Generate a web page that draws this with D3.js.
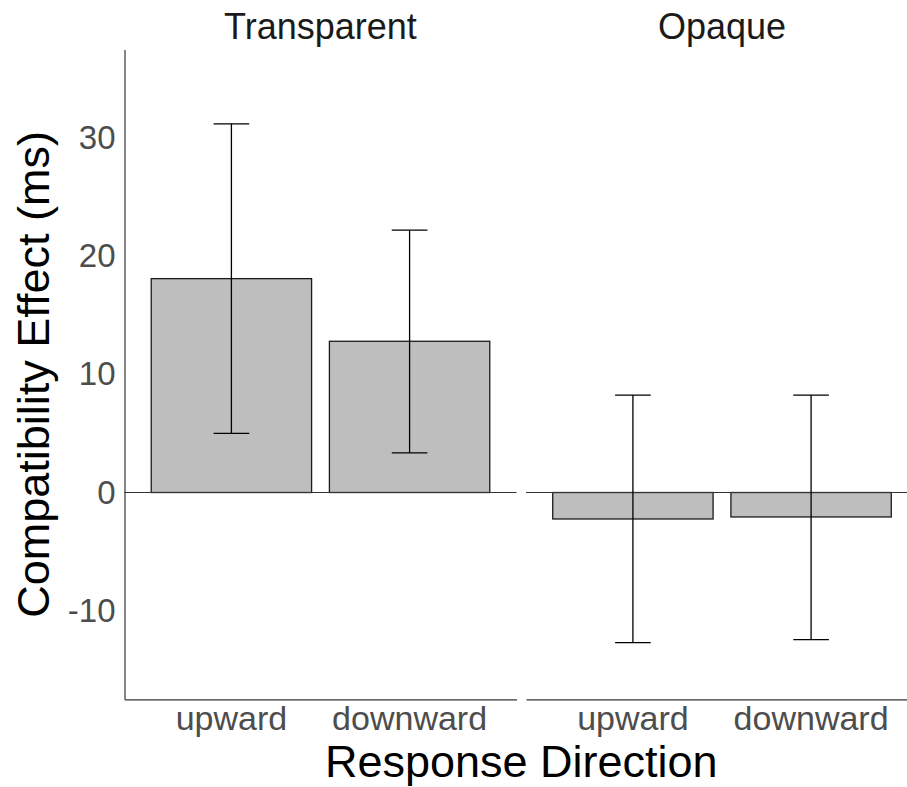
<!DOCTYPE html>
<html>
<head>
<meta charset="utf-8">
<script src="https://cdn.jsdelivr.net/npm/d3@7"></script>
<style>
  body { margin: 0; background: #fff; }
  svg { display: block; font-family: "Liberation Sans", Arial, Helvetica, sans-serif; }
</style>
</head>
<body>
<div id="chart"></div>
<script>
const width = 907
const height = 787

const conditions = ["Transparent", "Opaque"]
const directions = ["upward", "downward"]
// means and error bar limits per condition, in order of directions
const means = { Transparent: [18.1, 12.8], Opaque: [-2.24, -2.07] }
const lower = { Transparent: [5.0, 3.35], Opaque: [-12.7, -12.45] }
const upper = { Transparent: [31.2, 22.2], Opaque: [8.25, 8.25] }
const yTicks = [-10, 0, 10, 20, 30]

const data = conditions.flatMap(c => directions.map((d, i) => ({
  condition: c, direction: d, mean: means[c][i], lo: lower[c][i], hi: upper[c][i]
})))

const plot = {top: 49.4, bottom: 699.3, left: 124.5, right: 918}
const panelW = 392

const y = d3.scaleLinear()
  .domain([-17.5, 37.5])
  .range([plot.bottom, plot.top])

const fx = d3.scaleBand()
  .domain(conditions)
  .range([plot.left, plot.right])
  .paddingInner(1 - panelW / ((plot.right - plot.left + 9.5) / 2))

const x = d3.scaleBand()
  .domain(directions)
  .range([0, fx.bandwidth()])
  .paddingInner(0.1)
  .paddingOuter(0.15)

const capW = x.step() * 0.2

const svg = d3.select("#chart").append("svg")
  .attr("width", width)
  .attr("height", height)
  .attr("viewBox", [0, 0, width, height])

const panels = svg.selectAll("g.panel")
  .data(conditions)
  .join("g")
  .attr("class", "panel")
  .attr("transform", c => `translate(${fx(c)},0)`)

// strip titles
panels.append("text")
  .attr("x", fx.bandwidth() / 2)
  .attr("y", 39)
  .attr("text-anchor", "middle")
  .attr("font-size", 36)
  .attr("fill", "#1a1a1a")
  .text(c => c)

// bars
panels.selectAll("rect.bar")
  .data(c => data.filter(d => d.condition === c))
  .join("rect")
  .attr("class", "bar")
  .attr("x", d => x(d.direction))
  .attr("width", x.bandwidth())
  .attr("y", d => y(Math.max(0, d.mean)))
  .attr("height", d => Math.abs(y(d.mean) - y(0)))
  .attr("fill", "#bebebe")
  .attr("stroke", "#1a1a1a")
  .attr("stroke-width", 1.3)

// zero line
panels.append("line")
  .attr("x1", 0)
  .attr("x2", fx.bandwidth())
  .attr("y1", y(0))
  .attr("y2", y(0))
  .attr("stroke", "#333")
  .attr("stroke-width", 1.2)

// error bars
const eb = panels.selectAll("g.eb")
  .data(c => data.filter(d => d.condition === c))
  .join("g")
  .attr("class", "eb")
  .attr("transform", d => `translate(${x(d.direction) + x.bandwidth() / 2},0)`)
  .attr("stroke", "#000")
  .attr("stroke-width", 1.3)

eb.append("line")
  .attr("y1", d => y(d.lo))
  .attr("y2", d => y(d.hi))
eb.append("line")
  .attr("x1", -capW / 2).attr("x2", capW / 2)
  .attr("y1", d => y(d.hi)).attr("y2", d => y(d.hi))
eb.append("line")
  .attr("x1", -capW / 2).attr("x2", capW / 2)
  .attr("y1", d => y(d.lo)).attr("y2", d => y(d.lo))

// x axes
panels.append("g")
  .attr("transform", `translate(0,${plot.bottom})`)
  .call(d3.axisBottom(x).tickSize(0).tickPadding(7).tickSizeOuter(0))
  .call(g => g.select(".domain").attr("stroke", "#333").attr("stroke-width", 1.2))
  .call(g => g.selectAll(".tick text")
    .attr("font-size", 34)
    .attr("font-family", null)
    .attr("fill", "#4d4d4d")
    .attr("dy", "0.71em"))

// y axis
svg.append("g")
  .attr("transform", `translate(${plot.left},0)`)
  .call(d3.axisLeft(y).tickValues(yTicks).tickFormat(d => String(d))
    .tickSize(0).tickPadding(9).tickSizeOuter(0))
  .call(g => g.select(".domain").attr("stroke", "#333").attr("stroke-width", 1.2))
  .call(g => g.selectAll(".tick text")
    .attr("font-size", 33)
    .attr("font-family", null)
    .attr("fill", "#4d4d4d"))

// axis titles
svg.append("text")
  .attr("x", (plot.left + plot.right) / 2)
  .attr("y", 777)
  .attr("text-anchor", "middle")
  .attr("font-size", 45)
  .attr("fill", "#000")
  .text("Response Direction")

svg.append("text")
  .attr("transform", `translate(49,${(plot.top + plot.bottom) / 2}) rotate(-90)`)
  .attr("text-anchor", "middle")
  .attr("font-size", 45)
  .attr("fill", "#000")
  .text("Compatibility Effect (ms)")
</script>
</body>
</html>
